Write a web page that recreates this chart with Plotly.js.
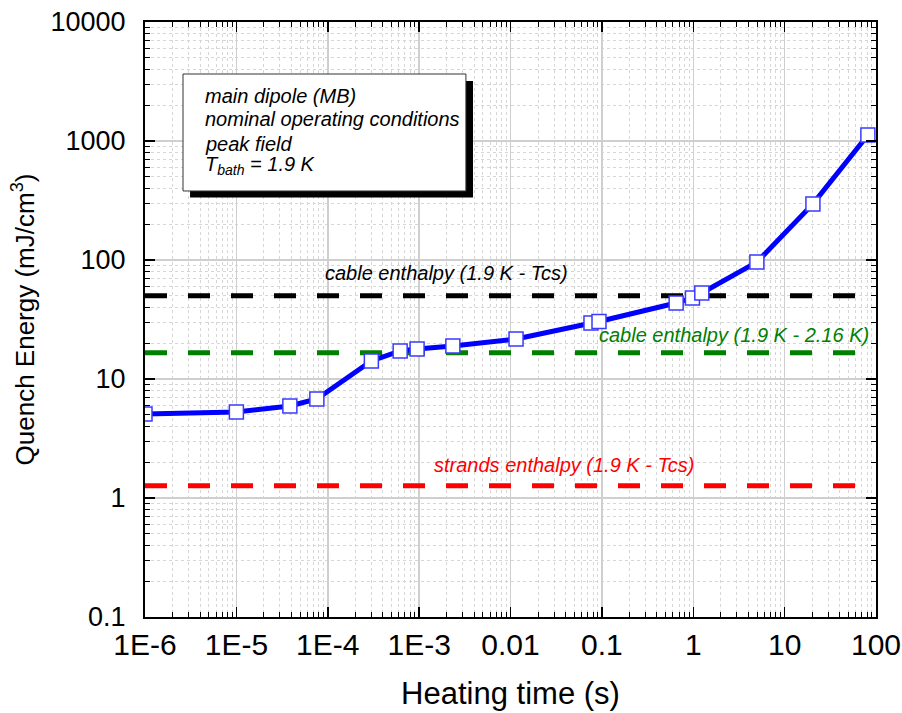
<!DOCTYPE html>
<html>
<head>
<meta charset="utf-8">
<script src="https://cdn.plot.ly/plotly-3.0.1.min.js"></script>
<style>html,body{margin:0;padding:0;background:#fff;}#chart{width:902px;height:713px;}</style>
</head>
<body>
<div id="chart"></div>
<script>
// ---- data ----
const heatingTime = [1e-6, 1e-5, 3.85e-5, 7.6e-5, 3.0e-4, 6.2e-4, 9.5e-4, 2.34e-3, 0.0115, 0.076, 0.093, 0.65, 0.98, 1.24, 4.97, 20.4, 81.5];
const quenchEnergy = [5.08, 5.28, 5.93, 6.8, 14.2, 17.2, 17.9, 18.9, 21.7, 29.5, 30.4, 43.5, 48, 52.8, 96, 296, 1122];

const lineSpanX = [1e-6, 100];
const cableEnthalpyTcs = 50;
const cableEnthalpy216 = 16.6;
const strandsEnthalpyTcs = 1.27;

const xTickVals = [1e-6, 1e-5, 1e-4, 1e-3, 0.01, 0.1, 1, 10, 100];
const xTickText = ['1E-6', '1E-5', '1E-4', '1E-3', '0.01', '0.1', '1', '10', '100'];
const yTickVals = [0.1, 1, 10, 100, 1000, 10000];
const yTickText = ['0.1', '1', '10', '100', '1000', '10000'];

const boxLines = ['main dipole (MB)', 'nominal operating conditions', 'peak field', 'T<sub>bath</sub> = 1.9 K'];

// minor tick positions (2..9 in each decade)
function minorTicks(lo, hi) {
  const v = [];
  for (let e = lo; e < hi; e++) for (let m = 2; m <= 9; m++) v.push(m * Math.pow(10, e));
  return v;
}
const xMinor = minorTicks(-6, 2);
const yMinor = minorTicks(-1, 4);

const font = 'Arial, "Liberation Sans", sans-serif';

function refLine(y, color) {
  return {
    x: lineSpanX, y: [y, y], mode: 'lines', type: 'scatter',
    line: {color: color, width: 5, dash: '22px,21px'}, hoverinfo: 'skip'
  };
}

const traces = [
  refLine(cableEnthalpyTcs, '#000000'),
  refLine(cableEnthalpy216, '#008000'),
  refLine(strandsEnthalpyTcs, '#ff0000'),
  {
    x: heatingTime, y: quenchEnergy, mode: 'lines+markers', type: 'scatter',
    line: {color: '#0000ff', width: 5},
    marker: {symbol: 'square', size: 14, color: '#ffffff', line: {color: '#3a3aff', width: 1.5}}
  }
];

const axisCommon = {
  type: 'log', showline: true, linecolor: '#000', linewidth: 2, mirror: 'allticks',
  ticks: 'inside', ticklen: 10, tickwidth: 1.5, tickcolor: '#000',
  showgrid: true, gridcolor: '#cfcfcf', gridwidth: 1.5, zeroline: false,
  tickmode: 'array'
};

const annotations = [];
const boxY = [0.8756, 0.837, 0.795, 0.758];
boxLines.forEach((t, i) => annotations.push({
  xref: 'paper', yref: 'paper', x: 0.0793, y: boxY[i], xanchor: 'left', yanchor: 'middle',
  text: '<i>' + t + '</i>', showarrow: false, font: {family: font, size: 20, color: '#000'}
}));
annotations.push(
  {xref: 'paper', yref: 'paper', x: 0.413, y: 0.578, xanchor: 'center', yanchor: 'middle',
   text: '<i>cable enthalpy (1.9 K - Tcs)</i>', showarrow: false, font: {family: font, size: 20, color: '#000'}},
  {xref: 'paper', yref: 'paper', x: 0.806, y: 0.474, xanchor: 'center', yanchor: 'middle',
   text: '<i>cable enthalpy (1.9 K - 2.16 K)</i>', showarrow: false, font: {family: font, size: 20, color: '#008000'}},
  {xref: 'paper', yref: 'paper', x: 0.5745, y: 0.2555, xanchor: 'center', yanchor: 'middle',
   text: '<i>strands enthalpy (1.9 K - Tcs)</i>', showarrow: false, font: {family: font, size: 20, color: '#ff0000'}}
);

const layout = {
  width: 902, height: 713,
  margin: {l: 145, r: 26, t: 22, b: 96},
  paper_bgcolor: '#fff', plot_bgcolor: '#fff',
  showlegend: false,
  font: {family: font, color: '#000'},
  xaxis: Object.assign({}, axisCommon, {
    range: [-6, 2], tickvals: xTickVals, ticktext: xTickText,
    tickfont: {family: font, size: 30, color: '#000'},
    ticklabelstandoff: 0,
    title: {text: 'Heating time (s)', font: {family: font, size: 31, color: '#000'}, standoff: 22},
    minor: {tickmode: 'array', tickvals: xMinor, ticks: 'inside', ticklen: 5, tickwidth: 1, tickcolor: '#000',
            showgrid: true, gridcolor: '#d6d6d6', griddash: 'dot', gridwidth: 1}
  }),
  yaxis: Object.assign({}, axisCommon, {
    range: [-1, 4], tickvals: yTickVals, ticktext: yTickText,
    tickfont: {family: font, size: 27, color: '#000'},
    ticklabelstandoff: 12,
    title: {text: 'Quench Energy (mJ/cm<sup>3</sup>)', font: {family: font, size: 26, color: '#000'}, standoff: 8},
    minor: {tickmode: 'array', tickvals: yMinor, ticks: 'inside', ticklen: 5, tickwidth: 1, tickcolor: '#000',
            showgrid: true, gridcolor: '#d6d6d6', griddash: 'dot', gridwidth: 1}
  }),
  shapes: [
    {type: 'rect', xref: 'paper', yref: 'paper', x0: 0.0616, x1: 0.4487, y0: 0.705, y1: 0.9008,
     fillcolor: '#000', line: {width: 0}, layer: 'above'},
    {type: 'rect', xref: 'paper', yref: 'paper', x0: 0.052, x1: 0.439, y0: 0.716, y1: 0.9126,
     fillcolor: '#fff', line: {color: '#333', width: 1}, layer: 'above'}
  ],
  annotations: annotations
};

Plotly.newPlot('chart', traces, layout, {displayModeBar: false, staticPlot: true});
</script>
</body>
</html>
